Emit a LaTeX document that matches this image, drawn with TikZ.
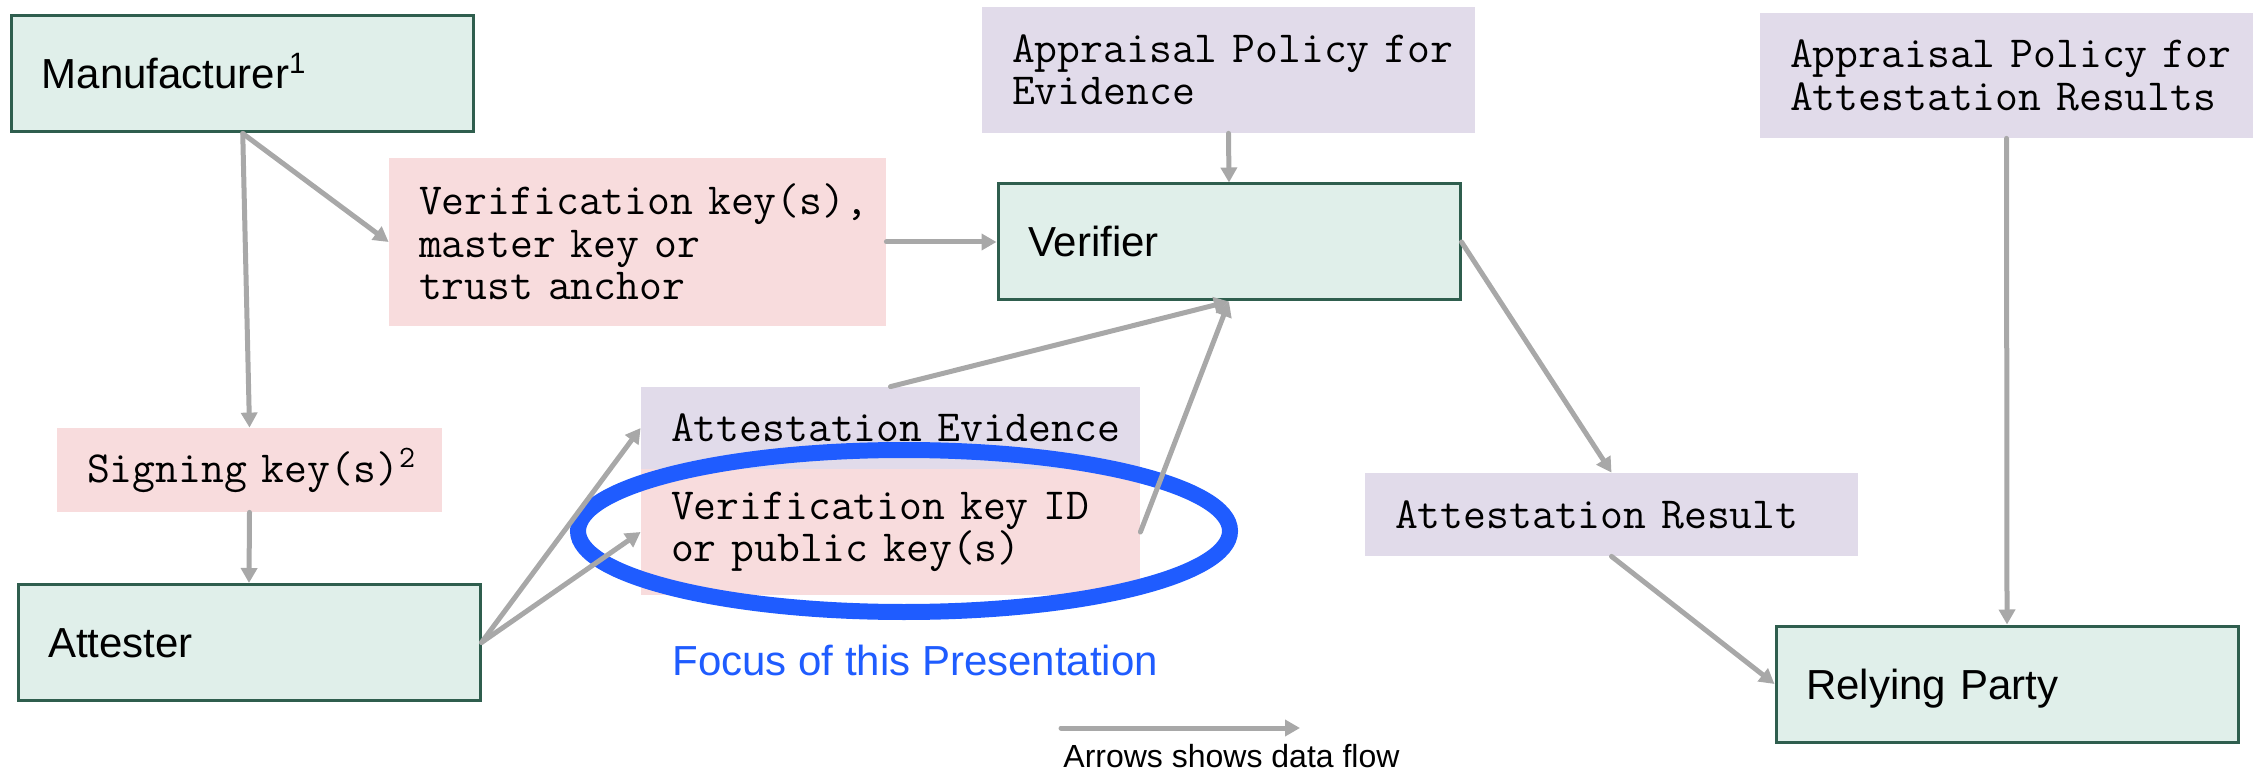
\documentclass[tikz,border=0pt]{standalone}
\usepackage{fontspec}
\setmainfont{Liberation Sans}
\usetikzlibrary{arrows.meta,shapes.geometric}

\definecolor{greenfill}{HTML}{E0EFEA}
\definecolor{greenline}{HTML}{2F5E4E}
\definecolor{pinkfill}{HTML}{F8DCDD}
\definecolor{lavfill}{HTML}{E1DBEA}
\definecolor{flowgray}{HTML}{A8A8A8}
\definecolor{focusblue}{HTML}{1F5CFF}

\tikzset{
  % actors: green boxes with a dark green frame
  actor/.style={draw=greenline, line width=1.5pt, fill=greenfill,
    font=\fontsize{21}{25}\selectfont, inner xsep=15pt, inner ysep=0pt,
    text width=201pt, align=left, minimum height=58pt,
    text height=15pt, text depth=0pt},
  % artefacts: flat boxes with typewriter text
  artefact/.style={font=\ttfamily\fontsize{22.2}{21.25}\selectfont,
    inner xsep=15pt, inner ysep=0pt, align=left},
  keybox/.style={artefact, fill=pinkfill},
  infobox/.style={artefact, fill=lavfill},
  flow/.style={draw=flowgray, line width=2.5pt, line cap=round,
    -{Triangle[length=7.5pt,width=8pt]}},
}

\begin{document}
\begin{tikzpicture}[x=0.5pt,y=-0.5pt]
\useasboundingbox (0,0) rectangle (2262,769);

% actors
\node[actor] (mfr) at (242.75,74) {Manufacturer\textsuperscript{1}};
\node[actor] (ver) at (1229,242) {Verifier};
\node[actor] (att) at (249,642.5) {Attester};
\node[actor] (rp)  at (2007,684) {Relying Party};

% keys and data
\node[keybox, text width=218.5pt, minimum height=84pt] (vkey) at (637.5,242)
  {\mbox{Verification key(s),}\\master key or\\trust anchor};
\node[keybox, text width=162.5pt, minimum height=42pt] (sign) at (249.5,470)
  {\mbox{Signing key(s)\textsuperscript{2}}};
\node[infobox, text width=216.5pt, minimum height=63pt] (aprE) at (1228.5,70)
  {\mbox{Appraisal Policy for}\\Evidence};
\node[infobox, text width=216.5pt, minimum height=62.5pt] (aprR) at (2006.5,75.5)
  {\mbox{Appraisal Policy for}\\Attestation Results};
\node[infobox, text width=219.5pt, minimum height=41pt] (evid) at (890.5,428)
  {\mbox{Attestation Evidence}};
\node[keybox, text width=219.5pt, minimum height=63pt] (vkid) at (890.5,532)
  {Verification key ID\\or public key(s)};
\node[infobox, text width=216.5pt, minimum height=41.5pt] (res) at (1611.5,514.5)
  {Attestation Result};

% highlight ring and its caption
\node[ellipse, draw=focusblue, line width=8pt, inner sep=0pt,
  minimum width=326pt, minimum height=81pt] (ring) at (904,531) {};
\node[anchor=base west, text=focusblue, font=\fontsize{21}{25}\selectfont,
  inner sep=0pt] (focus) at (672,675) {Focus of this Presentation};

% data flow
\draw[flow] (mfr.south) -- (vkey.west);
\draw[flow] (mfr.south) -- (sign.north);
\draw[flow] (vkey.east) -- (ver.west);
\draw[flow] (aprE.south) -- (ver.north);
\draw[flow] (sign.south) -- (att.north);
\draw[flow] (att.east) -- (evid.west);
\draw[flow] (att.east) -- (vkid.west);
\draw[flow] (evid.north) -- (ver.south);
\draw[flow] (vkid.east) -- (ver.south);
\draw[flow] (ver.east) -- (res.north);
\draw[flow] (res.south) -- (rp.west);
\draw[flow] (aprR.south) -- (rp.north);

% legend
\coordinate (lgA) at (1061,728);
\coordinate (lgB) at (1300,728);
\draw[flow] (lgA) -- (lgB);
\node[anchor=base west, font=\fontsize{16}{19}\selectfont, inner sep=0pt]
  (legend) at (1063,767) {Arrows shows data flow};
\end{tikzpicture}
\end{document}
